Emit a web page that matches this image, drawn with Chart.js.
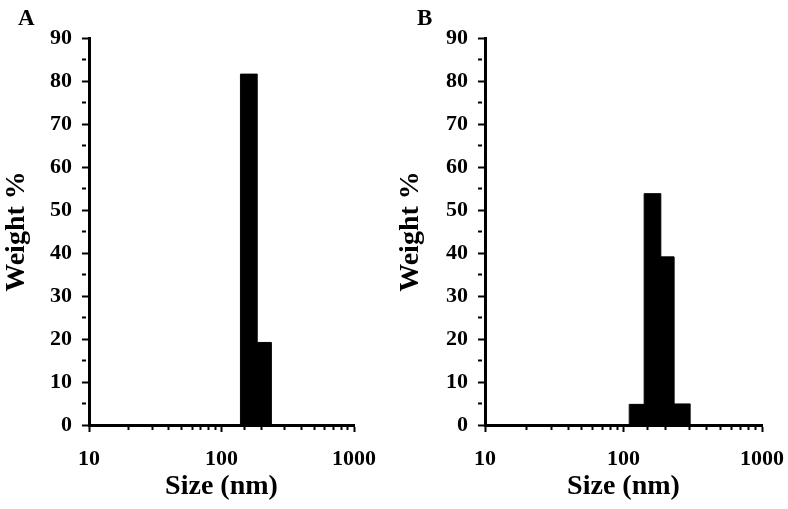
<!DOCTYPE html>
<html>
<head>
<meta charset="utf-8">
<script src="https://cdn.jsdelivr.net/npm/chart.js@4"></script>
<style>
  body { margin: 0; background: #fff; }
  .row { display: flex; width: 788px; height: 509px; }
  canvas { display: block; }
</style>
</head>
<body>
<div class="row">
  <canvas id="chartA" width="394" height="509"></canvas>
  <canvas id="chartB" width="394" height="509"></canvas>
</div>
<script>
// ---- data ----
// bin edges (nm) and weight % of each bin
const edgesA = [139, 186, 238];
const weightsA = [81.6, 19.2];

const edgesB = [110, 141, 186, 232, 303];
const weightsB = [4.8, 53.8, 39.1, 4.9];

const sizeTicks = [10, 100, 1000];
const yMax = 90;

const FONT = "'Liberation Serif', 'Times New Roman', serif";

// histogram outline as points for a stepped line
function histPoints(edges, weights) {
    const pts = [{ x: edges[0], y: 0 }];
    weights.forEach((w, i) => pts.push({ x: edges[i], y: w }));
    pts.push({ x: edges[edges.length - 1], y: 0 });
    return pts;
}

// panel letter (A / B)
const panelLetter = {
    id: 'panelLetter',
    afterDraw(chart, args, opts) {
        const ctx = chart.ctx;
        ctx.save();
        ctx.font = 'bold 23px ' + FONT;
        ctx.fillStyle = '#000';
        ctx.textBaseline = 'alphabetic';
        ctx.fillText(opts.text, opts.x, opts.y);
        ctx.restore();
    }
};

function makeChart(id, edges, weights, letter, axisLeft, padRight) {
    return new Chart(document.getElementById(id), {
        type: 'line',
        data: {
            datasets: [{
                data: histPoints(edges, weights),
                stepped: true,
                fill: 'origin',
                backgroundColor: '#000',
                borderColor: '#000',
                borderWidth: 1,
                pointRadius: 0
            }]
        },
        plugins: [panelLetter],
        options: {
            responsive: false,
            animation: false,
            events: [],
            layout: { padding: { top: 38, right: padRight, bottom: 0, left: 0 } },
            plugins: {
                legend: { display: false },
                tooltip: { enabled: false },
                panelLetter: { text: letter.text, x: letter.x, y: letter.y }
            },
            scales: {
                x: {
                    type: 'logarithmic',
                    min: 10,
                    max: 1000,
                    afterFit: s => {
                        s.height = 84;
                        s.paddingLeft = 0;
                        s.paddingRight = 0;
                    },
                    border: { display: true, color: '#000', width: 3 },
                    grid: {
                        drawOnChartArea: false,
                        drawTicks: true,
                        tickLength: 7,
                        tickWidth: 2,
                        tickColor: '#000',
                        tickBorderDash: c => sizeTicks.includes(c.tick.value) ? [] : [3, 20]
                    },
                    ticks: {
                        autoSkip: false,
                        maxRotation: 0,
                        padding: 14,
                        color: '#000',
                        font: { family: FONT, size: 22, weight: 'bold' },
                        callback: v => sizeTicks.includes(v) ? String(v) : ''
                    },
                    title: {
                        display: true,
                        text: 'Size (nm)',
                        color: '#000',
                        padding: { top: 0, bottom: 5 },
                        font: { family: FONT, size: 28, weight: 'bold' }
                    }
                },
                y: {
                    min: 0,
                    max: yMax,
                    afterFit: s => { s.width = axisLeft; },
                    border: { display: true, color: '#000', width: 3 },
                    grid: {
                        drawOnChartArea: false,
                        drawTicks: true,
                        tickLength: 7,
                        tickWidth: 2,
                        tickColor: '#000',
                        tickBorderDash: c => c.tick.value % 10 === 0 ? [] : [4, 20]
                    },
                    ticks: {
                        stepSize: 5,
                        autoSkip: false,
                        padding: 10,
                        color: '#000',
                        font: { family: FONT, size: 22, weight: 'bold' },
                        callback: v => v % 10 === 0 ? String(v) : ''
                    },
                    title: {
                        display: true,
                        text: 'Weight %',
                        color: '#000',
                        padding: 0,
                        font: { family: FONT, size: 28, weight: 'bold' }
                    }
                }
            }
        }
    });
}

makeChart('chartA', edgesA, weightsA, { text: 'A', x: 18, y: 25 }, 89, 40);
makeChart('chartB', edgesB, weightsB, { text: 'B', x: 23, y: 25 }, 91, 26);
</script>
</body>
</html>
